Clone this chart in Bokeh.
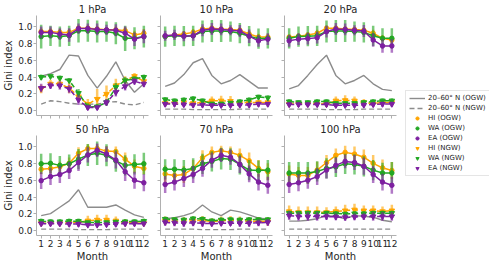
from bokeh.plotting import figure
from bokeh.layouts import row, column
from bokeh.models import (Range1d, FixedTicker, PrintfTickFormatter, CustomJSTickFormatter,
                          Legend, LegendItem)
from bokeh.embed import file_html
from bokeh.resources import INLINE

# ---------------- data ----------------
months = [1, 2, 3, 4, 5, 6, 7, 8, 9, 10, 11, 12]
titles = ["1 hPa", "10 hPa", "20 hPa", "50 hPa", "70 hPa", "100 hPa"]
y_ticks = [0.0, 0.2, 0.4, 0.6, 0.8, 1.0]
legend_labels = ["20\u201360\u00b0 N (OGW)", "20\u201360\u00b0 N (NGW)", "HI (OGW)", "WA (OGW)",
                 "EA (OGW)", "HI (NGW)", "WA (NGW)", "EA (NGW)"]

# 1 hPa
p1_band_ogw = [0.41, 0.44, 0.49, 0.66, 0.65, 0.42, 0.27, 0.41, 0.58, 0.36, 0.22, 0.32]
p1_band_ngw = [0.08, 0.12, 0.11, 0.09, 0.08, 0.08, 0.08, 0.10, 0.11, 0.08, 0.07, 0.10]
p1_hi_ogw = [0.94, 0.94, 0.93, 0.93, 0.98, 0.98, 0.97, 0.96, 0.96, 0.95, 0.90, 0.92]
p1_wa_ogw = [0.88, 0.89, 0.88, 0.89, 0.95, 0.95, 0.94, 0.94, 0.92, 0.86, 0.86, 0.88]
p1_ea_ogw = [0.93, 0.93, 0.91, 0.90, 0.975, 0.975, 0.965, 0.96, 0.955, 0.92, 0.85, 0.88]
p1_hi_ngw = [0.26, 0.32, 0.32, 0.27, 0.17, 0.08, 0.14, 0.20, 0.30, 0.36, 0.41, 0.35]
p1_wa_ngw = [0.40, 0.41, 0.39, 0.36, 0.21, 0.05, 0.05, 0.10, 0.28, 0.36, 0.38, 0.40]
p1_ea_ngw = [0.27, 0.30, 0.30, 0.26, 0.13, 0.04, 0.04, 0.10, 0.22, 0.29, 0.35, 0.32]
p1_hi_ogw_err = [0.04, 0.04, 0.04, 0.04, 0.03, 0.03, 0.03, 0.03, 0.04, 0.04, 0.05, 0.05]
p1_wa_ogw_err = [0.14, 0.12, 0.12, 0.12, 0.14, 0.13, 0.13, 0.12, 0.13, 0.15, 0.13, 0.13]
p1_ea_ogw_err = [0.07, 0.07, 0.07, 0.08, 0.06, 0.06, 0.07, 0.06, 0.07, 0.08, 0.08, 0.08]
p1_hi_ngw_err = [0.05, 0.05, 0.05, 0.06, 0.06, 0.06, 0.12, 0.10, 0.08, 0.05, 0.04, 0.04]
p1_wa_ngw_err = [0.03, 0.02, 0.03, 0.03, 0.05, 0.04, 0.03, 0.04, 0.05, 0.04, 0.03, 0.03]
p1_ea_ngw_err = [0.05, 0.04, 0.05, 0.05, 0.06, 0.03, 0.03, 0.04, 0.05, 0.05, 0.04, 0.04]

# 10 hPa
p2_band_ogw = [0.29, 0.33, 0.43, 0.57, 0.62, 0.42, 0.32, 0.36, 0.43, 0.35, 0.27, 0.27]
p2_band_ngw = [0.02, 0.02, 0.02, 0.015, 0.015, 0.015, 0.015, 0.015, 0.02, 0.02, 0.02, 0.02]
p2_hi_ogw = [0.885, 0.90, 0.91, 0.93, 0.97, 0.98, 0.97, 0.965, 0.955, 0.91, 0.875, 0.875]
p2_wa_ogw = [0.88, 0.89, 0.885, 0.89, 0.94, 0.946, 0.946, 0.94, 0.92, 0.885, 0.856, 0.86]
p2_ea_ogw = [0.89, 0.90, 0.885, 0.89, 0.955, 0.97, 0.965, 0.955, 0.946, 0.885, 0.83, 0.85]
p2_hi_ngw = [0.09, 0.09, 0.10, 0.09, 0.10, 0.12, 0.12, 0.115, 0.09, 0.10, 0.10, 0.10]
p2_wa_ngw = [0.135, 0.12, 0.13, 0.145, 0.12, 0.085, 0.085, 0.095, 0.11, 0.13, 0.165, 0.155]
p2_ea_ngw = [0.08, 0.08, 0.075, 0.07, 0.07, 0.065, 0.065, 0.065, 0.07, 0.07, 0.08, 0.08]
p2_hi_ogw_err = [0.03, 0.03, 0.03, 0.04, 0.03, 0.03, 0.03, 0.03, 0.03, 0.04, 0.04, 0.04]
p2_wa_ogw_err = [0.12, 0.12, 0.12, 0.12, 0.13, 0.13, 0.13, 0.12, 0.12, 0.12, 0.12, 0.12]
p2_ea_ogw_err = [0.06, 0.06, 0.06, 0.06, 0.07, 0.07, 0.07, 0.06, 0.07, 0.08, 0.07, 0.07]
p2_hi_ngw_err = [0.03, 0.03, 0.03, 0.03, 0.04, 0.05, 0.06, 0.06, 0.04, 0.03, 0.03, 0.03]
p2_wa_ngw_err = [0.03, 0.03, 0.03, 0.03, 0.03, 0.02, 0.02, 0.02, 0.03, 0.03, 0.03, 0.03]
p2_ea_ngw_err = [0.03, 0.03, 0.03, 0.03, 0.03, 0.02, 0.02, 0.02, 0.03, 0.03, 0.03, 0.03]

# 20 hPa
p3_band_ogw = [0.26, 0.30, 0.42, 0.55, 0.66, 0.42, 0.32, 0.36, 0.42, 0.32, 0.255, 0.24]
p3_band_ngw = [0.02, 0.02, 0.02, 0.02, 0.015, 0.015, 0.015, 0.015, 0.02, 0.02, 0.02, 0.02]
p3_hi_ogw = [0.875, 0.885, 0.90, 0.92, 0.98, 0.98, 0.97, 0.965, 0.955, 0.92, 0.86, 0.84]
p3_wa_ogw = [0.86, 0.88, 0.885, 0.89, 0.94, 0.946, 0.946, 0.94, 0.93, 0.89, 0.86, 0.86]
p3_ea_ogw = [0.83, 0.85, 0.856, 0.867, 0.94, 0.97, 0.965, 0.955, 0.946, 0.84, 0.77, 0.77]
p3_hi_ngw = [0.08, 0.085, 0.085, 0.085, 0.08, 0.12, 0.125, 0.12, 0.10, 0.085, 0.10, 0.10]
p3_wa_ngw = [0.11, 0.10, 0.10, 0.11, 0.11, 0.09, 0.09, 0.09, 0.10, 0.11, 0.12, 0.12]
p3_ea_ngw = [0.075, 0.075, 0.075, 0.075, 0.075, 0.065, 0.065, 0.065, 0.07, 0.075, 0.08, 0.08]
p3_hi_ogw_err = [0.03, 0.03, 0.03, 0.04, 0.03, 0.03, 0.03, 0.03, 0.03, 0.04, 0.04, 0.04]
p3_wa_ogw_err = [0.12, 0.12, 0.12, 0.12, 0.13, 0.13, 0.13, 0.12, 0.12, 0.12, 0.12, 0.12]
p3_ea_ogw_err = [0.07, 0.07, 0.07, 0.07, 0.07, 0.07, 0.07, 0.06, 0.07, 0.08, 0.08, 0.08]
p3_hi_ngw_err = [0.03, 0.03, 0.03, 0.03, 0.03, 0.05, 0.06, 0.05, 0.04, 0.03, 0.03, 0.03]
p3_wa_ngw_err = [0.03, 0.03, 0.03, 0.03, 0.03, 0.02, 0.02, 0.02, 0.03, 0.03, 0.03, 0.03]
p3_ea_ngw_err = [0.03, 0.03, 0.03, 0.03, 0.03, 0.02, 0.02, 0.02, 0.03, 0.03, 0.03, 0.03]

# 50 hPa
p4_band_ogw = [0.18, 0.205, 0.28, 0.355, 0.487, 0.28, 0.28, 0.28, 0.307, 0.245, 0.19, 0.16]
p4_band_ngw = [0.02, 0.02, 0.02, 0.02, 0.015, 0.015, 0.015, 0.015, 0.02, 0.02, 0.02, 0.02]
p4_hi_ogw = [0.73, 0.74, 0.76, 0.80, 0.92, 0.975, 0.975, 0.945, 0.94, 0.85, 0.765, 0.74]
p4_wa_ogw = [0.795, 0.80, 0.776, 0.795, 0.85, 0.90, 0.92, 0.895, 0.83, 0.776, 0.787, 0.795]
p4_ea_ogw = [0.595, 0.643, 0.668, 0.715, 0.81, 0.90, 0.955, 0.91, 0.84, 0.70, 0.60, 0.57]
p4_hi_ngw = [0.09, 0.09, 0.09, 0.095, 0.10, 0.12, 0.13, 0.13, 0.12, 0.10, 0.095, 0.09]
p4_wa_ngw = [0.115, 0.11, 0.11, 0.115, 0.115, 0.10, 0.10, 0.10, 0.105, 0.11, 0.11, 0.115]
p4_ea_ngw = [0.085, 0.085, 0.085, 0.08, 0.08, 0.07, 0.07, 0.075, 0.08, 0.085, 0.085, 0.085]
p4_hi_ogw_err = [0.06, 0.06, 0.06, 0.07, 0.07, 0.05, 0.05, 0.06, 0.06, 0.08, 0.08, 0.07]
p4_wa_ogw_err = [0.12, 0.12, 0.11, 0.11, 0.12, 0.13, 0.14, 0.13, 0.13, 0.12, 0.12, 0.13]
p4_ea_ogw_err = [0.10, 0.10, 0.10, 0.10, 0.10, 0.09, 0.08, 0.09, 0.10, 0.11, 0.10, 0.10]
p4_hi_ngw_err = [0.03, 0.03, 0.03, 0.03, 0.04, 0.06, 0.06, 0.06, 0.05, 0.04, 0.03, 0.03]
p4_wa_ngw_err = [0.03, 0.03, 0.03, 0.03, 0.03, 0.02, 0.02, 0.02, 0.03, 0.03, 0.03, 0.03]
p4_ea_ngw_err = [0.03, 0.03, 0.03, 0.03, 0.03, 0.02, 0.02, 0.02, 0.03, 0.03, 0.03, 0.03]

# 70 hPa
p5_band_ogw = [0.145, 0.155, 0.18, 0.217, 0.307, 0.224, 0.18, 0.245, 0.225, 0.19, 0.15, 0.14]
p5_band_ngw = [0.02, 0.02, 0.02, 0.02, 0.015, 0.015, 0.015, 0.015, 0.02, 0.02, 0.02, 0.02]
p5_hi_ogw = [0.675, 0.657, 0.668, 0.74, 0.866, 0.93, 0.95, 0.93, 0.895, 0.83, 0.74, 0.70]
p5_wa_ogw = [0.73, 0.73, 0.72, 0.74, 0.795, 0.823, 0.856, 0.85, 0.787, 0.72, 0.715, 0.72]
p5_ea_ogw = [0.55, 0.578, 0.62, 0.668, 0.74, 0.837, 0.895, 0.873, 0.787, 0.675, 0.578, 0.54]
p5_hi_ngw = [0.12, 0.115, 0.115, 0.12, 0.125, 0.11, 0.12, 0.125, 0.12, 0.115, 0.115, 0.11]
p5_wa_ngw = [0.14, 0.135, 0.13, 0.145, 0.14, 0.12, 0.13, 0.135, 0.13, 0.135, 0.135, 0.135]
p5_ea_ngw = [0.10, 0.095, 0.09, 0.095, 0.09, 0.085, 0.09, 0.09, 0.09, 0.09, 0.095, 0.10]
p5_hi_ogw_err = [0.10, 0.10, 0.10, 0.10, 0.09, 0.07, 0.06, 0.07, 0.08, 0.10, 0.10, 0.10]
p5_wa_ogw_err = [0.12, 0.12, 0.12, 0.12, 0.12, 0.12, 0.13, 0.13, 0.12, 0.12, 0.12, 0.12]
p5_ea_ogw_err = [0.10, 0.10, 0.10, 0.10, 0.10, 0.09, 0.08, 0.09, 0.10, 0.10, 0.10, 0.10]
p5_hi_ngw_err = [0.05, 0.05, 0.05, 0.05, 0.05, 0.04, 0.05, 0.05, 0.05, 0.05, 0.05, 0.05]
p5_wa_ngw_err = [0.03, 0.03, 0.03, 0.03, 0.03, 0.03, 0.03, 0.03, 0.03, 0.03, 0.03, 0.03]
p5_ea_ngw_err = [0.04, 0.04, 0.04, 0.04, 0.04, 0.03, 0.03, 0.03, 0.04, 0.04, 0.04, 0.04]

# 100 hPa
p6_band_ogw = [0.115, 0.115, 0.126, 0.144, 0.18, 0.173, 0.144, 0.18, 0.173, 0.162, 0.126, 0.108]
p6_band_ngw = [0.02, 0.02, 0.02, 0.02, 0.02, 0.02, 0.02, 0.02, 0.02, 0.02, 0.02, 0.02]
p6_hi_ogw = [0.675, 0.657, 0.657, 0.72, 0.81, 0.895, 0.93, 0.91, 0.873, 0.80, 0.747, 0.715]
p6_wa_ogw = [0.686, 0.686, 0.686, 0.704, 0.74, 0.758, 0.795, 0.787, 0.765, 0.72, 0.686, 0.686]
p6_ea_ogw = [0.55, 0.57, 0.60, 0.643, 0.72, 0.776, 0.823, 0.81, 0.765, 0.668, 0.578, 0.54]
p6_hi_ngw = [0.23, 0.22, 0.22, 0.22, 0.22, 0.23, 0.24, 0.25, 0.24, 0.24, 0.23, 0.24]
p6_wa_ngw = [0.21, 0.21, 0.21, 0.21, 0.21, 0.205, 0.20, 0.205, 0.205, 0.21, 0.21, 0.21]
p6_ea_ngw = [0.18, 0.17, 0.17, 0.17, 0.17, 0.165, 0.16, 0.165, 0.17, 0.17, 0.17, 0.17]
p6_hi_ogw_err = [0.10, 0.10, 0.10, 0.10, 0.09, 0.08, 0.08, 0.09, 0.09, 0.10, 0.10, 0.10]
p6_wa_ogw_err = [0.13, 0.13, 0.13, 0.12, 0.12, 0.12, 0.12, 0.12, 0.12, 0.12, 0.12, 0.13]
p6_ea_ogw_err = [0.10, 0.10, 0.10, 0.10, 0.10, 0.09, 0.08, 0.09, 0.10, 0.10, 0.10, 0.10]
p6_hi_ngw_err = [0.07, 0.07, 0.07, 0.07, 0.06, 0.06, 0.07, 0.07, 0.06, 0.06, 0.06, 0.07]
p6_wa_ngw_err = [0.03, 0.03, 0.03, 0.03, 0.03, 0.03, 0.03, 0.03, 0.03, 0.03, 0.03, 0.03]
p6_ea_ngw_err = [0.05, 0.05, 0.05, 0.05, 0.04, 0.04, 0.04, 0.04, 0.04, 0.05, 0.05, 0.05]

panels = [
    (p1_band_ogw, p1_band_ngw, p1_hi_ogw, p1_wa_ogw, p1_ea_ogw, p1_hi_ngw, p1_wa_ngw, p1_ea_ngw,
     p1_hi_ogw_err, p1_wa_ogw_err, p1_ea_ogw_err, p1_hi_ngw_err, p1_wa_ngw_err, p1_ea_ngw_err),
    (p2_band_ogw, p2_band_ngw, p2_hi_ogw, p2_wa_ogw, p2_ea_ogw, p2_hi_ngw, p2_wa_ngw, p2_ea_ngw,
     p2_hi_ogw_err, p2_wa_ogw_err, p2_ea_ogw_err, p2_hi_ngw_err, p2_wa_ngw_err, p2_ea_ngw_err),
    (p3_band_ogw, p3_band_ngw, p3_hi_ogw, p3_wa_ogw, p3_ea_ogw, p3_hi_ngw, p3_wa_ngw, p3_ea_ngw,
     p3_hi_ogw_err, p3_wa_ogw_err, p3_ea_ogw_err, p3_hi_ngw_err, p3_wa_ngw_err, p3_ea_ngw_err),
    (p4_band_ogw, p4_band_ngw, p4_hi_ogw, p4_wa_ogw, p4_ea_ogw, p4_hi_ngw, p4_wa_ngw, p4_ea_ngw,
     p4_hi_ogw_err, p4_wa_ogw_err, p4_ea_ogw_err, p4_hi_ngw_err, p4_wa_ngw_err, p4_ea_ngw_err),
    (p5_band_ogw, p5_band_ngw, p5_hi_ogw, p5_wa_ogw, p5_ea_ogw, p5_hi_ngw, p5_wa_ngw, p5_ea_ngw,
     p5_hi_ogw_err, p5_wa_ogw_err, p5_ea_ogw_err, p5_hi_ngw_err, p5_wa_ngw_err, p5_ea_ngw_err),
    (p6_band_ogw, p6_band_ngw, p6_hi_ogw, p6_wa_ogw, p6_ea_ogw, p6_hi_ngw, p6_wa_ngw, p6_ea_ngw,
     p6_hi_ogw_err, p6_wa_ogw_err, p6_ea_ogw_err, p6_hi_ngw_err, p6_wa_ngw_err, p6_ea_ngw_err),
]

# ---------------- style ----------------
FONT = "DejaVu Sans"
TEXT = "#262626"
SPINE = "#b0b0b0"
C_HI, C_WA, C_EA, C_BAND = "#FFA500", "#22A722", "#7D1FA0", "#8C8C8C"
DASH = "5 3"
YMIN, YMAX = -0.055, 1.13
FW, FH = 112, 100
NGW_MARK = "inverted_triangle"


def style_axis(ax, show_labels):
    ax.axis_line_color = SPINE
    ax.major_tick_line_color = SPINE
    ax.minor_tick_line_color = None
    ax.major_tick_out = 3
    ax.major_tick_in = 0
    ax.major_label_text_font = FONT
    ax.major_label_text_color = TEXT
    ax.major_label_standoff = 1
    if show_labels:
        ax.major_label_text_font_size = "9px"
    else:
        ax.major_label_text_font_size = "1px"
        ax.formatter = CustomJSTickFormatter(code="return ''")
    ax.axis_label_text_font = FONT
    ax.axis_label_text_font_size = "10px"
    ax.axis_label_text_font_style = "normal"
    ax.axis_label_text_color = TEXT
    ax.axis_label_standoff = 1


def series(p, y, err, color, marker, size, dashed):
    lo = [v - e for v, e in zip(y, err)]
    hi = [v + e for v, e in zip(y, err)]
    p.segment(x0=months, y0=lo, x1=months, y1=hi, line_color=color, line_width=2.5, line_alpha=0.6)
    p.line(months, y, line_color=color, line_width=1.5, line_dash=DASH if dashed else "solid")
    p.scatter(months, y, marker=marker, size=size, fill_color=color, line_color=color)


def make_panel(i):
    col, rw = i % 3, i // 3
    left = 31 if col == 0 else 10
    bottom = 5 if rw == 0 else 26
    p = figure(frame_width=FW, frame_height=FH, x_range=Range1d(0.5, 12.5),
               y_range=Range1d(YMIN, YMAX), output_backend="svg", toolbar_location=None,
               min_border_left=left, min_border_right=2, min_border_top=14,
               min_border_bottom=bottom, outline_line_color=None)
    p.title.text = titles[i]
    p.title.align = "center"
    p.title.text_font = FONT
    p.title.text_font_size = "10px"
    p.title.text_font_style = "normal"
    p.title.text_color = TEXT
    p.title.standoff = 2
    p.grid.visible = False
    p.xaxis.ticker = FixedTicker(ticks=months)
    p.yaxis.ticker = FixedTicker(ticks=y_ticks)
    p.yaxis.formatter = PrintfTickFormatter(format="%.1f")
    style_axis(p.xaxis[0], rw == 1)
    style_axis(p.yaxis[0], col == 0)
    if rw == 1:
        p.xaxis.axis_label = "Month"
    if col == 0:
        p.yaxis.axis_label = "Gini index"

    (b_o, b_n, hi_o, wa_o, ea_o, hi_n, wa_n, ea_n,
     e_hi_o, e_wa_o, e_ea_o, e_hi_n, e_wa_n, e_ea_n) = panels[i]
    p.line(months, b_o, line_color=C_BAND, line_width=1.4)
    p.line(months, b_n, line_color=C_BAND, line_width=1.4, line_dash=DASH)
    series(p, hi_o, e_hi_o, C_HI, "circle", 4.5, False)
    series(p, wa_o, e_wa_o, C_WA, "circle", 4.5, False)
    series(p, ea_o, e_ea_o, C_EA, "circle", 4.5, False)
    series(p, hi_n, e_hi_n, C_HI, NGW_MARK, 5.5, True)
    series(p, wa_n, e_wa_n, C_WA, NGW_MARK, 5.5, True)
    series(p, ea_n, e_ea_n, C_EA, NGW_MARK, 5.5, True)
    return p


figs = [make_panel(i) for i in range(6)]

# legend panel (dummy renderers sit outside the visible range)
TOTAL_H = (14 + FH + 5) + (14 + FH + 26)
LEG_W = 484 - (31 + FW + 2) - 2 * (10 + FW + 2)
lg = figure(width=LEG_W, height=TOTAL_H, x_range=Range1d(0, 1), y_range=Range1d(0, 1),
            x_axis_type=None, y_axis_type=None, output_backend="svg", toolbar_location=None,
            min_border=0, outline_line_color=None)
off_x, off_y = [-5, -4], [-5, -4]
r_b1 = lg.line(off_x, off_y, line_color=C_BAND, line_width=1.4)
r_b2 = lg.line(off_x, off_y, line_color=C_BAND, line_width=1.4, line_dash=DASH)
r_h1 = lg.scatter(off_x, off_y, marker="circle", size=4.5, fill_color=C_HI, line_color=C_HI)
r_w1 = lg.scatter(off_x, off_y, marker="circle", size=4.5, fill_color=C_WA, line_color=C_WA)
r_e1 = lg.scatter(off_x, off_y, marker="circle", size=4.5, fill_color=C_EA, line_color=C_EA)
r_h2 = lg.scatter(off_x, off_y, marker=NGW_MARK, size=5.5, fill_color=C_HI, line_color=C_HI)
r_w2 = lg.scatter(off_x, off_y, marker=NGW_MARK, size=5.5, fill_color=C_WA, line_color=C_WA)
r_e2 = lg.scatter(off_x, off_y, marker=NGW_MARK, size=5.5, fill_color=C_EA, line_color=C_EA)
rs = [r_b1, r_b2, r_h1, r_w1, r_e1, r_h2, r_w2, r_e2]
legend = Legend(items=[LegendItem(label=l, renderers=[r]) for l, r in zip(legend_labels, rs)],
                location=(7, 83), label_text_font=FONT, label_text_font_size="7px",
                label_text_color=TEXT, label_height=8, glyph_height=8, glyph_width=16,
                spacing=2, padding=3, margin=0, label_standoff=3,
                border_line_color="#cccccc", background_fill_alpha=0.8)
lg.add_layout(legend)

layout = row(column(row(*figs[:3]), row(*figs[3:])), lg)

open("out.html", "w").write(file_html(layout, INLINE))
